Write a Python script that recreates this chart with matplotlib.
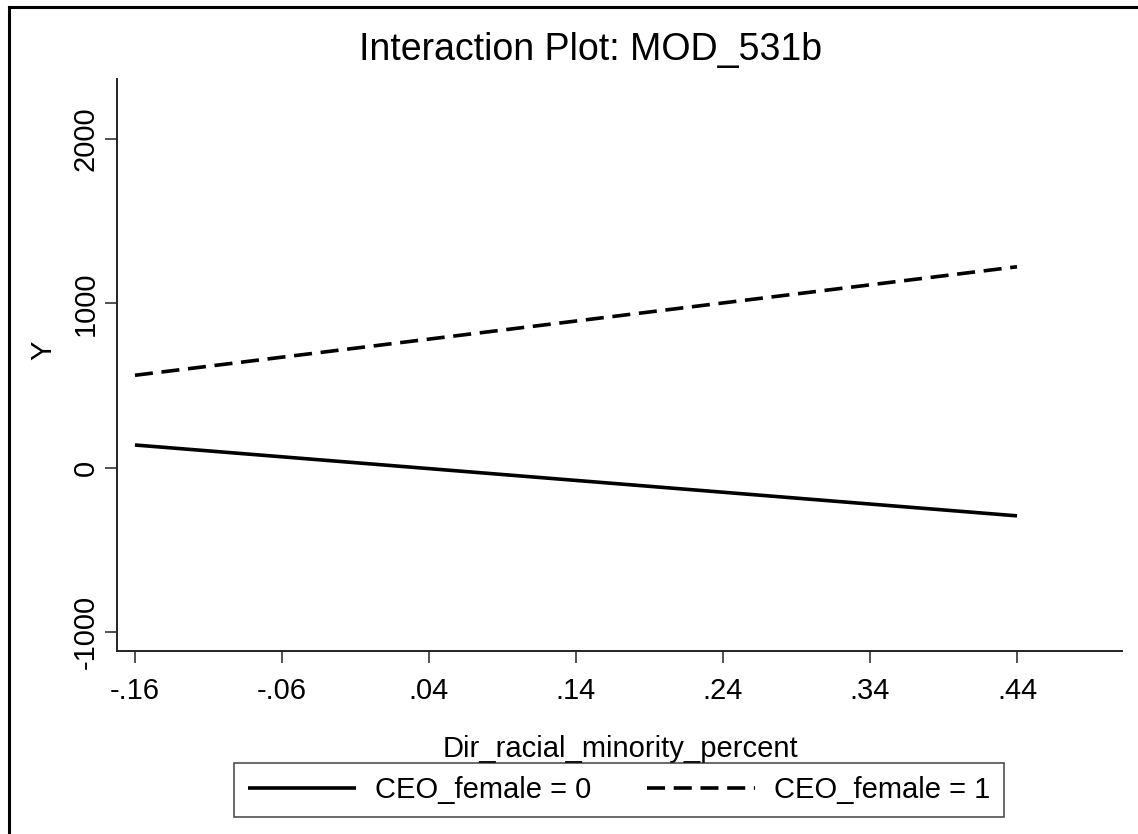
import matplotlib
matplotlib.use("Agg")
import matplotlib.pyplot as plt
from matplotlib.lines import Line2D

plt.rcParams['font.family'] = ['Liberation Sans', 'DejaVu Sans']

# Data
x_vals = [-0.16, 0.44]
y_ceo0 = [138, -293]
y_ceo1 = [562, 1222]
labels = ["CEO_female = 0", "CEO_female = 1"]
xticks = [-0.16, -0.06, 0.04, 0.14, 0.24, 0.34, 0.44]
xticklabels = ["-.16", "-.06", ".04", ".14", ".24", ".34", ".44"]
yticks = [-1000, 0, 1000, 2000]
yticklabels = ["-1000", "0", "1000", "2000"]

W, H = 1138, 834
fig = plt.figure(figsize=(W / 100, H / 100), dpi=100)

def fx(px):
    return px / W

def fy(py):
    return (H - py) / H

ax_left, ax_right, ax_top, ax_bot = 117, 1122, 79, 651
ax = fig.add_axes([fx(ax_left), fy(ax_bot), fx(ax_right - ax_left), (ax_bot - ax_top) / H])

lw = 2.6
l0, = ax.plot(x_vals, y_ceo0, color='black', lw=lw, solid_capstyle='butt')
l1, = ax.plot(x_vals, y_ceo1, color='black', lw=lw, linestyle=(0, (5.0, 2.4)), dash_capstyle='butt')

ax.set_xlim(-0.1722, 0.5114)
ax.set_ylim(-1115, 2364)

for s in ['top', 'right']:
    ax.spines[s].set_visible(False)
for s in ['left', 'bottom']:
    ax.spines[s].set_linewidth(1.4)
    ax.spines[s].set_color('#222222')

fs = 21
ax.set_xticks(xticks)
ax.set_xticklabels(xticklabels, fontsize=fs)
ax.set_yticks(yticks)
ax.set_yticklabels(yticklabels, fontsize=fs, rotation=90, va='center')
ax.tick_params(axis='both', length=8.6, width=1.1, color='#222222')
ax.tick_params(axis='x', pad=10)
ax.tick_params(axis='y', pad=4)

fig.text(fx(620), fy(749), "Dir_racial_minority_percent", fontsize=fs, ha='center', va='center')
fig.text(fx(43), fy(350), "Y", fontsize=fs, ha='center', va='center', rotation=90)
fig.text(fx(591), fy(50), "Interaction Plot: MOD_531b", fontsize=27, ha='center', va='center')

leg = fig.legend([l0, l1], labels, loc='center', bbox_to_anchor=(fx(619), fy(790)),
                 ncol=2, fontsize=fs, frameon=True, fancybox=False, handlelength=3.7,
                 handletextpad=0.67, columnspacing=1.9, borderpad=0.45, borderaxespad=0)
frame = leg.get_frame()
frame.set_edgecolor('#222222')
frame.set_linewidth(1.2)

# document border (left and top)
fig.add_artist(Line2D([fx(9), fx(9)], [0, fy(7)], color='black', lw=2.2, transform=fig.transFigure))
fig.add_artist(Line2D([fx(9), 1], [fy(7), fy(7)], color='black', lw=2.2, transform=fig.transFigure))

fig.savefig("out.png", dpi=100)
